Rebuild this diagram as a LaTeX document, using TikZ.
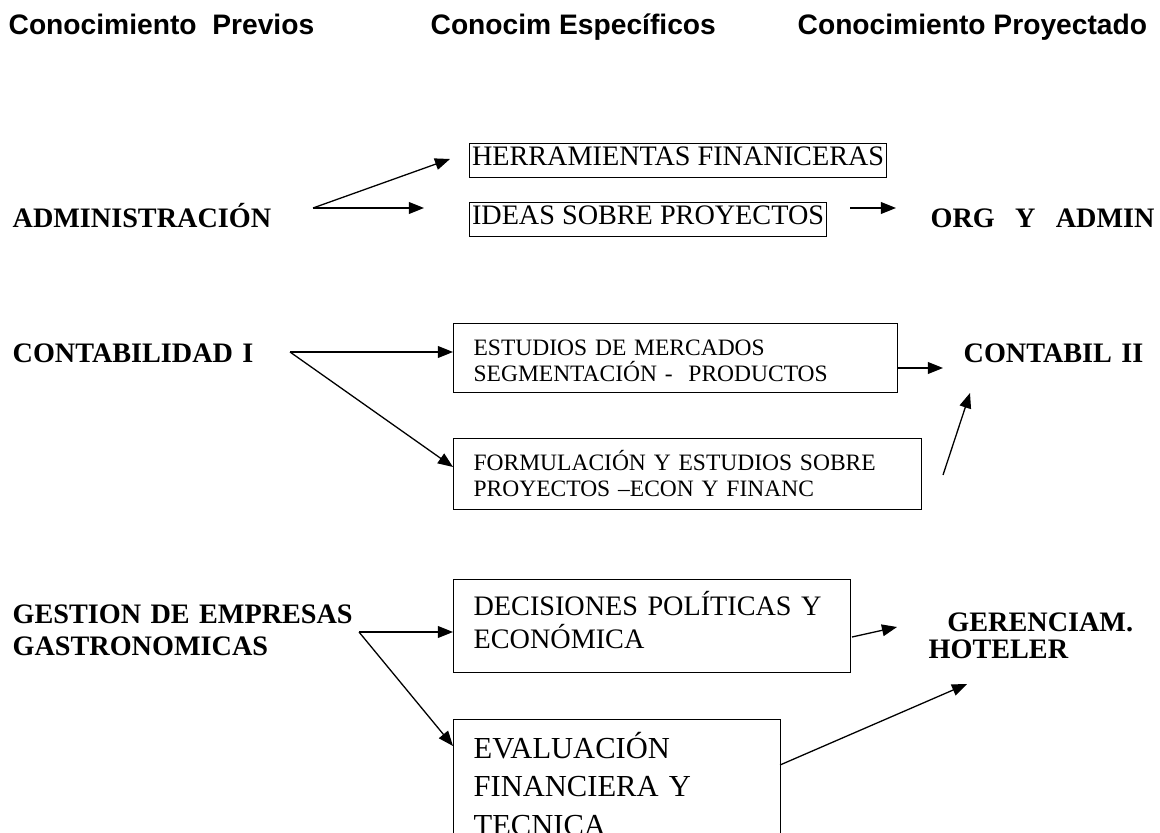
\documentclass[tikz,border=0pt]{standalone}
\usepackage{fontspec}
\setmainfont{Liberation Serif}
\setsansfont{Liberation Sans}
\usetikzlibrary{arrows.meta}

\begin{document}
\begin{tikzpicture}[x=0.4255pt, y=-0.4255pt, line width=0.55pt,
    arr/.style={-{Triangle[length=6.4pt,width=5pt]}},
    head/.style={anchor=base west, inner sep=0pt, font=\sffamily\bfseries\fontsize{12}{14}\selectfont},
    lbl/.style={anchor=base west, inner sep=0pt, align=left, text width=160pt, font=\bfseries\fontsize{12}{14}\selectfont},
    tbox/.style={draw, anchor=north west, inner xsep=1pt, inner ysep=0pt, text height=9.5pt, text depth=5pt, font=\fontsize{12}{14}\selectfont},
    wbox/.style={draw, anchor=north west, inner xsep=8.5pt, inner ysep=0pt, align=left}]

\useasboundingbox (0,0) rectangle (1160,833);
\clip (0,0) rectangle (1160,833);

% column titles
\node[head] (h_prev) at (8,35) {Conocimiento\ \ Previos};
\node[head] (h_esp) at (430,35) {Conocim Específicos};
\node[head] (h_proy) at (797,35) {Conocimiento Proyectado};

% left column
\node[lbl] (adm) at (12,228) {ADMINISTRACIÓN};
\node[lbl] (cont) at (12,362) {CONTABILIDAD I};
\node[lbl] (gest) at (12,623) {GESTION DE EMPRESAS\\GASTRONOMICAS};

% right column
\node[lbl] (org) at (930,228) {ORG\hspace{0.72em}Y\hspace{0.72em}ADMIN};
\node[lbl] (cont2) at (963,362) {CONTABIL II};
\node[lbl, font=\bfseries\fontsize{12}{11.5}\selectfont] (geren) at (928,631) {\hspace*{8pt}GERENCIAM.\\HOTELER};

% middle boxes
\node[tbox] (herr) at (469,143) {HERRAMIENTAS FINANICERAS};
\node[tbox] (ideas) at (469,202) {IDEAS SOBRE PROYECTOS};

\node[wbox, text width=171.9pt, text height=13.6pt, text depth=15.7pt, font=\fontsize{10}{11}\selectfont]
  (estud) at (453,323) {ESTUDIOS DE MERCADOS\\SEGMENTACIÓN -\ \ PRODUCTOS};
\node[wbox, text width=182.1pt, text height=13.6pt, text depth=16.6pt, font=\fontsize{10}{11}\selectfont]
  (formul) at (453,438) {FORMULACIÓN Y ESTUDIOS SOBRE\\PROYECTOS –ECON Y FINANC};

\node[wbox, text width=151.9pt, text height=15.3pt, text depth=24.3pt, font=\fontsize{12}{14}\selectfont]
  (decis) at (453,579) {DECISIONES POLÍTICAS Y\\ECONÓMICA};
\node[wbox, text width=122.1pt, text height=16.6pt, text depth=45pt, font=\fontsize{13}{16.3}\selectfont]
  (eval) at (453,719) {EVALUACIÓN\\FINANCIERA Y\\TECNICA};

% arrow ends
\coordinate (adm_o) at (313,208);
\coordinate (herr_in) at (450,159);
\coordinate (ideas_in) at (424,208);
\coordinate (ideas_out) at (850,208);
\coordinate (org_in) at (896,208);

\coordinate (cont_o) at (290,352);
\coordinate (formul_in) at (453,467);
\coordinate (estud_out) at (897,368);
\coordinate (cont2_a) at (943,368);
\coordinate (formul_out) at (943,475);
\coordinate (cont2_b) at (970,393);

\coordinate (gest_o) at (359,632);
\coordinate (eval_in) at (453,746);
\coordinate (decis_out) at (852,637);
\coordinate (geren_a) at (897,627);
\coordinate (eval_out) at (780,765);
\coordinate (geren_b) at (967,684);

% first row
\draw[arr] (adm_o) -- (herr_in);
\draw[arr] (adm_o) -- (ideas_in);
\draw[arr] (ideas_out) -- (org_in);

% second row
\draw[arr] (cont_o) -- (cont_o -| estud.west);
\draw[arr] (cont_o) -- (formul_in);
\draw[arr] (estud_out) -- (cont2_a);
\draw[arr] (formul_out) -- (cont2_b);

% third row
\draw[arr] (gest_o) -- (gest_o -| decis.west);
\draw[arr] (gest_o) -- (eval_in);
\draw[arr] (decis_out) -- (geren_a);
\draw[arr] (eval_out) -- (geren_b);

\end{tikzpicture}
\end{document}
